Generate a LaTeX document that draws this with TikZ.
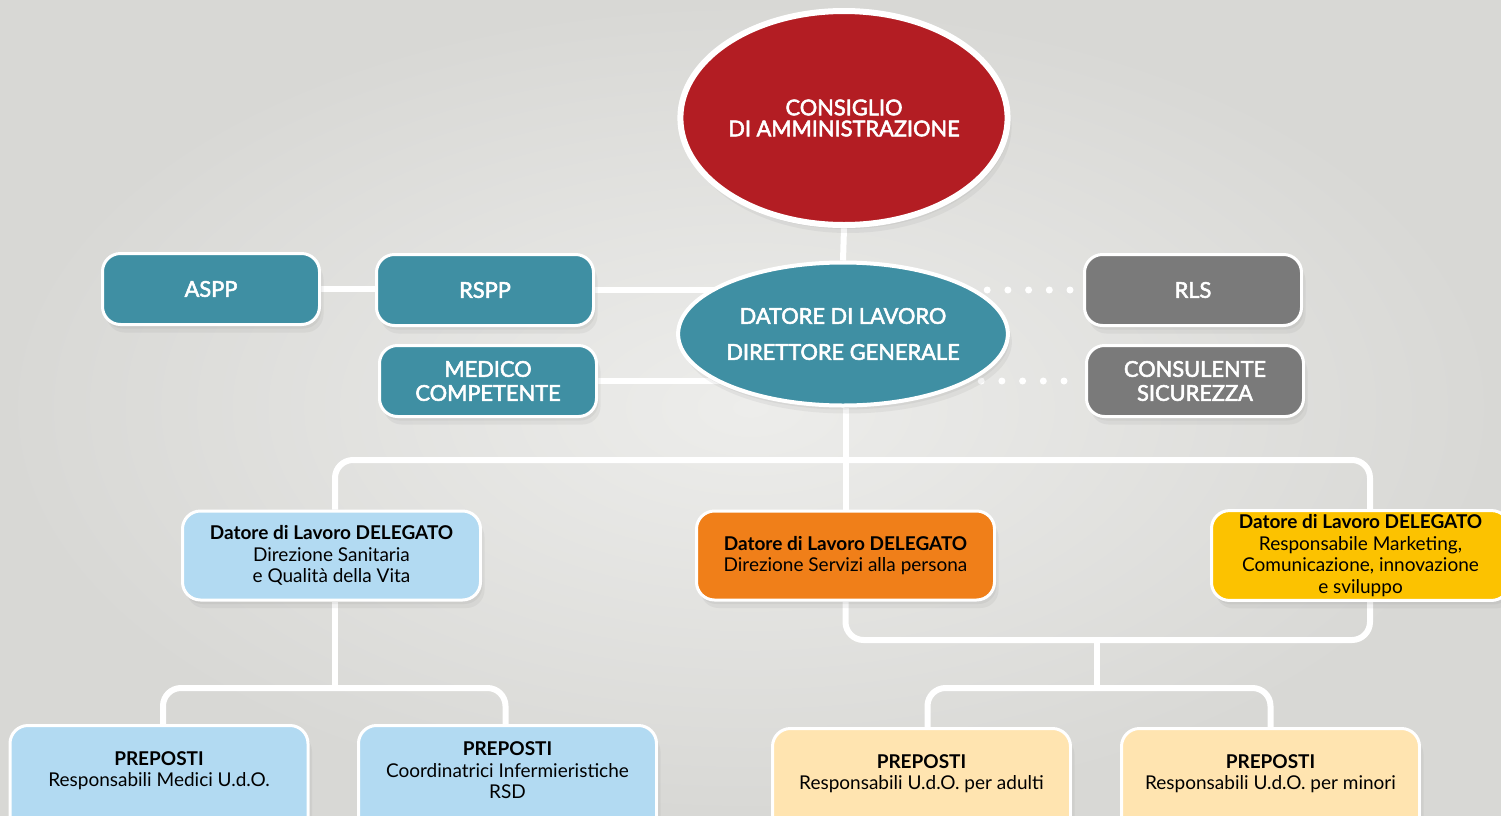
\documentclass[tikz,border=0pt]{standalone}
\usepackage{fontspec}
\setmainfont{Lato}
\setsansfont{Lato}
\newfontfamily\medfont{Lato}[BoldFont={Lato}, BoldFeatures={FakeBold=2.5}]
\usetikzlibrary{shapes.geometric,shadows,calc}
\definecolor{cdared}{HTML}{B31D23}
\definecolor{teal}{HTML}{3F8FA3}
\definecolor{grayb}{HTML}{7A7A7A}
\definecolor{lblue}{HTML}{B2DAF2}
\definecolor{orangeb}{HTML}{F07F19}
\definecolor{yellowb}{HTML}{FCC200}
\definecolor{lyellow}{HTML}{FFE4B0}
\definecolor{bgin}{HTML}{EDEDEB}
\definecolor{bgmid}{HTML}{E4E4E2}
\definecolor{bgout}{HTML}{D8D8D5}
\pgfdeclarelayer{background}\pgfsetlayers{background,main}
\begin{document}
\begin{tikzpicture}[x=0.5pt,y=-0.5pt,
  shad/.style={drop shadow={opacity=0.10, shadow xshift=1pt, shadow yshift=-2pt},
               drop shadow={opacity=0.10, shadow xshift=2pt, shadow yshift=-4pt}},
  whitetxt/.style={text=white, font=\medfont\bfseries\fontsize{10.9}{12}\selectfont, align=center},
  topbox/.style={shape=rectangle, rounded corners=9pt, draw=white, line width=1.5pt,
    minimum width=108.5pt, minimum height=35.5pt, inner sep=2pt, shad, whitetxt},
  delbox/.style={shape=rectangle, rounded corners=9pt, draw=white, line width=1.5pt,
    minimum width=149pt, minimum height=44.5pt, inner sep=2pt, shad, align=center,
    font=\fontsize{9.5}{10.75}\selectfont, text=black},
  pbox/.style={shape=rectangle, rounded corners=9pt, draw=white, line width=1.5pt,
    minimum width=149pt, minimum height=60pt, anchor=north, shad},
  ptext/.style={align=center, font=\fontsize{9.5}{10.75}\selectfont, text=black},
  conn/.style={draw=white, line width=3pt},
  bus/.style={conn, rounded corners=9pt},
  dotline/.style={draw=white, line width=3.5pt, line cap=round, dash pattern=on 0pt off 10.35pt}
]
\useasboundingbox (0,0) rectangle (1501,815);
\begin{pgfonlayer}{background}
\fill[bgmid] (0,0) rectangle (1501,815);
\shade[inner color=bgin, outer color=bgout] (0,0) rectangle (1501,815);
\end{pgfonlayer}

% ellipses
\node[ellipse, draw=white, line width=3pt, fill=cdared, minimum width=163pt, minimum height=107pt,
  inner sep=0pt, shad, text=white, font=\medfont\bfseries\fontsize{10.9}{10.5}\selectfont, align=center]
  (cda) at (844,118) {CONSIGLIO\\DI AMMINISTRAZIONE};
\node[ellipse, draw=white, line width=2pt, fill=teal, minimum width=163pt, minimum height=71.5pt,
  inner sep=0pt, shad, text=white, font=\medfont\bfseries\fontsize{10.9}{12}\selectfont, align=center]
  (dl) at (843,334) {DATORE DI LAVORO\\[6pt]DIRETTORE GENERALE};

% top boxes
\node[topbox, fill=teal] (aspp) at (211,289) {ASPP};
\node[topbox, fill=teal] (rspp) at (485,290) {RSPP};
\node[topbox, fill=teal] (medico) at (488,381) {MEDICO\\COMPETENTE};
\node[topbox, fill=grayb] (rls) at (1193,290) {RLS};
\node[topbox, fill=grayb] (cons) at (1195,381) {CONSULENTE\\SICUREZZA};

% delegated employers
\node[delbox, fill=lblue] (dleft) at (331.5,555.5)
  {\textbf{Datore di Lavoro DELEGATO}\\Direzione Sanitaria\\e Qualità della Vita};
\node[delbox, fill=orangeb] (dmid) at (845.5,555.5)
  {\textbf{Datore di Lavoro DELEGATO}\\Direzione Servizi alla persona};
\node[delbox, fill=yellowb] (dright) at (1360.5,555.5)
  {\textbf{Datore di Lavoro DELEGATO}\\Responsabile Marketing,\\Comunicazione, innovazione\\e sviluppo};

% preposti
\node[pbox, fill=lblue] (p1) at (159,724) {};
\node[pbox, fill=lblue] (p2) at (507.5,724) {};
\node[pbox, fill=lyellow] (p3) at (921.5,727) {};
\node[pbox, fill=lyellow] (p4) at (1270.5,727) {};
\node[ptext] (p1t) at (159,770.5) {\textbf{PREPOSTI}\\Responsabili Medici U.d.O.};
\node[ptext] (p2t) at (507.5,770.5) {\textbf{PREPOSTI}\\Coordinatrici Infermieristiche\\RSD};
\node[ptext] (p3t) at (921.5,773.5) {\textbf{PREPOSTI}\\Responsabili U.d.O. per adulti};
\node[ptext] (p4t) at (1270.5,773.5) {\textbf{PREPOSTI}\\Responsabili U.d.O. per minori};

\coordinate (bus1) at (846,460);
\coordinate (bus2) at (1097,640);
\coordinate (bus3) at (1097,688);
\coordinate (bus4) at (335,688);

\begin{pgfonlayer}{background}
\draw[conn] (cda.south) -- (dl.north);
\draw[conn] (aspp.east) -- (aspp.east -| rspp.west);
\draw[conn] (rspp.east) -- (rspp.east -| dl.center);
\draw[conn] (medico.east) -- (medico.east -| dl.center);
\draw[dotline] ([xshift=-6.5pt]rls.west) -- (rls.west -| dl.center);
\draw[dotline] ([xshift=-10.5pt]cons.west) -- (cons.west -| dl.center);
\draw[conn] (dl.south -| dmid.north) -- (dmid.north);
\draw[bus] ([xshift=1.75pt]dleft.north) |- (bus1) -| ([xshift=4.75pt]dright.north);
\draw[bus] (dmid.south) |- (bus2) -| ([xshift=4.75pt]dright.south);
\draw[conn] (bus2) -- (bus3);
\draw[bus] ([xshift=3pt]p3.north) |- (bus3) -| (p4.north);
\draw[conn] ([xshift=1.75pt]dleft.south) -- (bus4);
\draw[bus] ([xshift=2pt]p1.north) |- (bus4) -| ([xshift=-1pt]p2.north);
\end{pgfonlayer}
\end{tikzpicture}
\end{document}
